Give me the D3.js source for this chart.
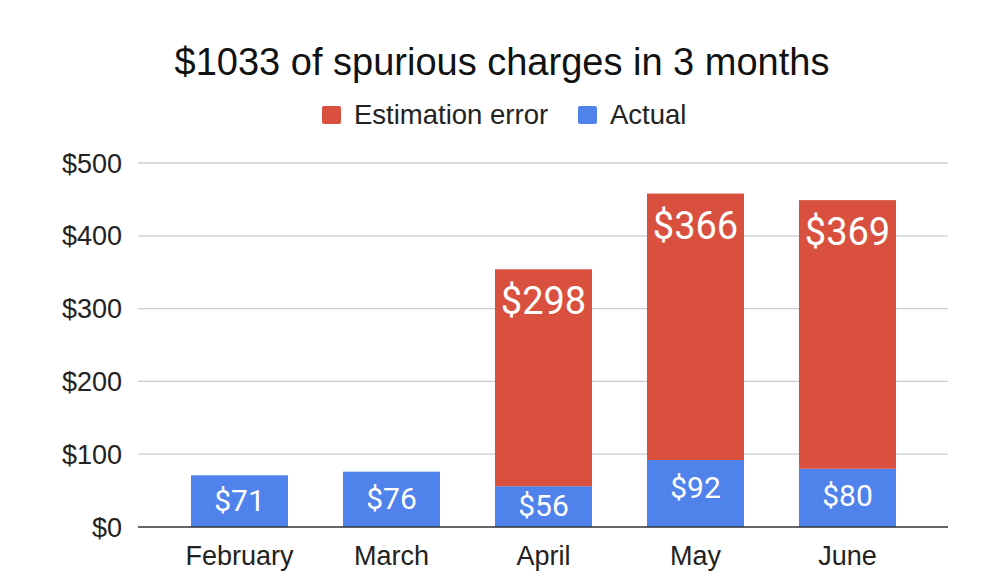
<!DOCTYPE html>
<html>
<head>
<meta charset="utf-8">
<script src="https://cdn.jsdelivr.net/npm/d3@7"></script>
<style>
  body { margin: 0; background: #fff; }
</style>
</head>
<body>
<div id="chart"></div>
<script>
let months = ["February", "March", "April", "May", "June"];
let actual = [71, 76, 56, 92, 80];
let estimationError = [0, 0, 298, 366, 369];
let yTicks = [0, 100, 200, 300, 400, 500];

let w = 1000;
let h = 586;
let red = "#d9503f";
let blue = "#4f82ea";

let svg = d3.select("#chart")
  .append("svg")
  .attr("width", w)
  .attr("height", h)
  .style("background-color", "white");

let xScale = d3.scaleBand().domain(months).range([191, 896]).paddingInner(55 / 152).paddingOuter(0);
let yScale = d3.scaleLinear().domain([0, 500]).range([527, 163]);

// title
svg.append("text")
  .attr("x", 502)
  .attr("y", 75)
  .attr("text-anchor", "middle")
  .style("font-family", "'Liberation Sans', Arial, sans-serif")
  .style("font-size", "38px")
  .attr("fill", "#111")
  .text("$1033 of spurious charges in 3 months");

// legend
let legend = [
  { name: "Estimation error", color: red, x: 322 },
  { name: "Actual", color: blue, x: 578 }
];
let lg = svg.append("g").attr("class", "legend");
lg.selectAll("rect").data(legend).enter().append("rect")
  .attr("x", d => d.x)
  .attr("y", 106)
  .attr("width", 19)
  .attr("height", 18)
  .attr("rx", 2)
  .attr("fill", d => d.color);
lg.selectAll("text").data(legend).enter().append("text")
  .attr("x", d => d.x + 32)
  .attr("y", 124)
  .style("font-family", "'Liberation Sans', Arial, sans-serif")
  .style("font-size", "27.5px")
  .attr("fill", "#222")
  .text(d => d.name);

// gridlines + y labels
let grid = svg.append("g").attr("class", "grid");
grid.selectAll("line").data(yTicks.filter(t => t > 0)).enter().append("line")
  .attr("x1", 138)
  .attr("x2", 948)
  .attr("y1", d => yScale(d))
  .attr("y2", d => yScale(d))
  .attr("stroke", "#cccccc")
  .attr("stroke-width", 1.3);
grid.selectAll("text").data(yTicks).enter().append("text")
  .attr("x", 122)
  .attr("y", d => yScale(d) + 9.5)
  .attr("text-anchor", "end")
  .style("font-family", "'Liberation Sans', Arial, sans-serif")
  .style("font-size", "27px")
  .attr("fill", "#222")
  .text(d => "$" + d);

// bars
let rows = months.map((m, i) => ({ month: m, actual: actual[i], err: estimationError[i] }));
let barGroup = svg.append("g").attr("class", "bars");

barGroup.selectAll(".actual").data(rows).enter().append("rect")
  .attr("class", "actual")
  .attr("x", d => xScale(d.month))
  .attr("y", d => yScale(d.actual))
  .attr("width", xScale.bandwidth())
  .attr("height", d => yScale(0) - yScale(d.actual))
  .attr("fill", blue);

barGroup.selectAll(".err").data(rows.filter(d => d.err > 0)).enter().append("rect")
  .attr("class", "err")
  .attr("x", d => xScale(d.month))
  .attr("y", d => yScale(d.actual + d.err))
  .attr("width", xScale.bandwidth())
  .attr("height", d => yScale(d.actual) - yScale(d.actual + d.err))
  .attr("fill", red);

// labels
barGroup.selectAll(".actualLabel").data(rows).enter().append("text")
  .attr("class", "actualLabel")
  .attr("x", d => xScale(d.month) + xScale.bandwidth() / 2)
  .attr("y", d => {
    let top = yScale(d.actual);
    let mid = (top + yScale(0)) / 2;
    return Math.min(top + 27, mid - 1) + 10.5;
  })
  .attr("text-anchor", "middle")
  .style("font-family", "Roboto, 'Open Sans', sans-serif")
  .style("font-size", "30px")
  .attr("fill", "white")
  .text(d => "$" + d.actual);

barGroup.selectAll(".errLabel").data(rows.filter(d => d.err > 0)).enter().append("text")
  .attr("class", "errLabel")
  .attr("x", d => xScale(d.month) + xScale.bandwidth() / 2)
  .attr("y", d => yScale(d.actual + d.err) + 45)
  .attr("text-anchor", "middle")
  .style("font-family", "Roboto, 'Open Sans', sans-serif")
  .style("font-size", "38px")
  .attr("fill", "white")
  .text(d => "$" + d.err);

// baseline
svg.append("line")
  .attr("x1", 138)
  .attr("x2", 948)
  .attr("y1", yScale(0))
  .attr("y2", yScale(0))
  .attr("stroke", "#333")
  .attr("stroke-width", 1.6);

// x labels
svg.append("g").selectAll("text").data(months).enter().append("text")
  .attr("x", d => xScale(d) + xScale.bandwidth() / 2)
  .attr("y", 565)
  .attr("text-anchor", "middle")
  .style("font-family", "'Liberation Sans', Arial, sans-serif")
  .style("font-size", "27px")
  .attr("fill", "#222")
  .text(d => d);
</script>
</body>
</html>
